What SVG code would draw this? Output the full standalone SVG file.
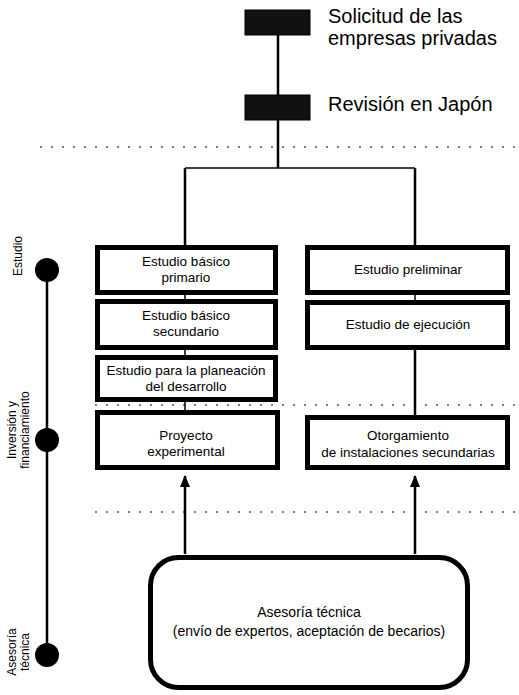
<svg xmlns="http://www.w3.org/2000/svg" width="519" height="695" viewBox="0 0 519 695">
<style>
text{font-family:"Liberation Sans",Arial,sans-serif;fill:#000}
.big{font-size:20px}
.bx{font-size:13.5px;text-anchor:middle}
.lab{font-size:12px;text-anchor:middle}
.box{fill:#fff;stroke:#000;stroke-width:5}
.blk{fill:#111;stroke:#000;stroke-width:1}
.ln{stroke:#000;stroke-width:2.5;fill:none}
.thin{stroke:#000;stroke-width:1.5;fill:none}
.dot{stroke:#000;stroke-width:1;stroke-dasharray:2 9;fill:none}
</style>
<defs>
<marker id="ah" viewBox="0 0 12 10" refX="11" refY="5" markerWidth="12" markerHeight="10" markerUnits="userSpaceOnUse" orient="auto">
<path d="M0,0 L12,5 L0,10 Z" fill="#000"/>
</marker>
</defs>
<rect width="519" height="695" fill="#fff"/>
<g id="connectors">
<line class="ln" x1="278" y1="35" x2="278" y2="95"/>
<line class="ln" x1="278" y1="120" x2="278" y2="168"/>
<line class="thin" x1="185" y1="168" x2="415" y2="168"/>
<line class="ln" x1="185" y1="168" x2="185" y2="245"/>
<line class="ln" x1="415" y1="168" x2="415" y2="245"/>
<line class="thin" x1="185" y1="295" x2="185" y2="299"/>
<line class="thin" x1="185" y1="350" x2="185" y2="355"/>
<line class="thin" x1="185" y1="402" x2="185" y2="410"/>
<line class="thin" x1="415" y1="295" x2="415" y2="300"/>
<line class="ln" x1="415" y1="350" x2="415" y2="415"/>
<line class="ln" x1="185" y1="554" x2="185" y2="476" marker-end="url(#ah)"/>
<line class="ln" x1="415" y1="554" x2="415" y2="476" marker-end="url(#ah)"/>
<line class="dot" x1="40" y1="147" x2="519" y2="147"/>
<line class="dot" x1="95" y1="405" x2="519" y2="405"/>
<line class="dot" x1="95" y1="512" x2="519" y2="512"/>
</g>
<g id="timeline">
<line class="ln" x1="47" y1="270" x2="47" y2="655"/>
<circle cx="47" cy="270" r="12" fill="#000"/>
<circle cx="47" cy="440" r="12" fill="#000"/>
<circle cx="47" cy="655" r="12" fill="#000"/>
<text class="lab" transform="translate(22,256) rotate(-90)">Estudio</text>
<text class="lab" transform="translate(16,430) rotate(-90)">Inversión y</text>
<text class="lab" transform="translate(29,430) rotate(-90)">financiamiento</text>
<text class="lab" transform="translate(16,652) rotate(-90)">Asesoría</text>
<text class="lab" transform="translate(29,652) rotate(-90)">técnica</text>
</g>
<g id="n-solicitud">
<rect class="blk" x="245" y="10" width="65" height="25"/>
<text class="big" x="328" y="23">Solicitud de las</text>
<text class="big" x="328" y="45">empresas privadas</text>
</g>
<g id="n-revision">
<rect class="blk" x="245" y="95" width="65" height="25"/>
<text class="big" x="328" y="111">Revisión en Japón</text>
</g>
<g id="n-basico1">
<rect class="box" x="97.5" y="247.5" width="178" height="45"/>
<text class="bx" x="186" y="266">Estudio básico</text>
<text class="bx" x="186" y="282">primario</text>
</g>
<g id="n-basico2">
<rect class="box" x="97.5" y="301.5" width="178" height="46"/>
<text class="bx" x="186" y="320">Estudio básico</text>
<text class="bx" x="186" y="336">secundario</text>
</g>
<g id="n-planeacion">
<rect class="box" x="97.5" y="357.5" width="178" height="42"/>
<text class="bx" x="186" y="375">Estudio para la planeación</text>
<text class="bx" x="186" y="391">del desarrollo</text>
</g>
<g id="n-proyecto">
<rect class="box" x="97.5" y="412.5" width="180" height="55"/>
<text class="bx" x="186" y="440">Proyecto</text>
<text class="bx" x="186" y="456">experimental</text>
</g>
<g id="n-preliminar">
<rect class="box" x="307.5" y="247.5" width="200" height="45"/>
<text class="bx" x="408" y="274">Estudio preliminar</text>
</g>
<g id="n-ejecucion">
<rect class="box" x="307.5" y="302.5" width="200" height="45"/>
<text class="bx" x="408" y="329">Estudio de ejecución</text>
</g>
<g id="n-otorgamiento">
<rect class="box" x="307.5" y="417.5" width="200" height="50"/>
<text class="bx" x="408" y="440">Otorgamiento</text>
<text class="bx" x="408" y="457">de instalaciones secundarias</text>
</g>
<g id="n-asesoria">
<rect class="box" x="150.5" y="557.5" width="317" height="130" rx="28"/>
<text class="bx" x="309" y="617" style="font-size:14px">Asesoría técnica</text>
<text class="bx" x="309" y="636" style="font-size:14px">(envío de expertos, aceptación de becarios)</text>
</g>
</svg>
